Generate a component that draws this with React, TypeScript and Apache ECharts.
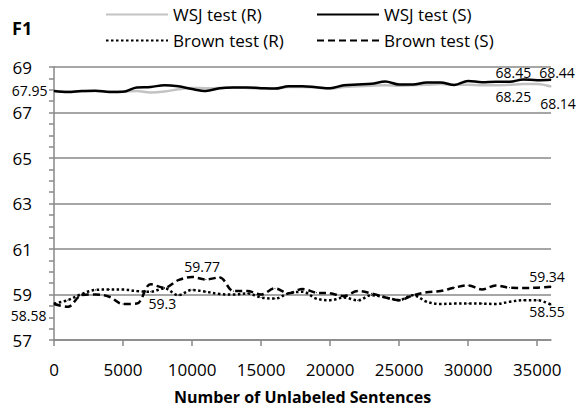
import React, { useEffect, useRef } from 'react';
import * as echarts from 'echarts';

const X_VALUES = [0, 1000, 2000, 3000, 4000, 5000, 6000, 7000, 8000, 9000, 10000, 11000, 12000, 13000, 14000, 15000, 16000, 17000, 18000, 19000, 20000, 21000, 22000, 23000, 24000, 25000, 26000, 27000, 28000, 29000, 30000, 31000, 32000, 33000, 34000, 35000, 36000];
const X_TICKS = [0, 5000, 10000, 15000, 20000, 25000, 30000, 35000];

const WSJ_R = [67.95, 67.92, 67.93, 67.95, 67.92, 67.92, 67.95, 67.88, 67.92, 68.02, 68.08, 68.07, 68.08, 68.1, 68.08, 68.05, 68.05, 68.12, 68.12, 68.1, 68.05, 68.12, 68.15, 68.18, 68.2, 68.18, 68.2, 68.22, 68.25, 68.22, 68.22, 68.2, 68.2, 68.22, 68.25, 68.25, 68.14];
const WSJ_S = [67.95, 67.9, 67.95, 67.96, 67.9, 67.91, 68.1, 68.12, 68.2, 68.15, 68.03, 67.95, 68.07, 68.1, 68.1, 68.07, 68.05, 68.15, 68.15, 68.11, 68.07, 68.2, 68.23, 68.26, 68.36, 68.23, 68.23, 68.32, 68.32, 68.21, 68.39, 68.33, 68.35, 68.35, 68.45, 68.42, 68.44];
const BROWN_R = [58.6, 58.75, 59.02, 59.2, 59.22, 59.22, 59.15, 59.12, 59.27, 58.97, 59.2, 59.12, 59.02, 59.0, 59.05, 58.87, 58.82, 59.05, 59.12, 58.82, 58.75, 58.87, 58.74, 58.97, 58.87, 58.75, 58.97, 58.68, 58.58, 58.6, 58.6, 58.6, 58.58, 58.68, 58.75, 58.75, 58.55];
const BROWN_S = [58.58, 58.46, 58.97, 59.0, 58.9, 58.58, 58.6, 59.45, 59.3, 59.63, 59.77, 59.66, 59.75, 59.15, 59.15, 59.0, 59.27, 59.05, 59.24, 59.08, 59.05, 58.93, 59.15, 59.05, 58.87, 58.75, 58.96, 59.1, 59.15, 59.3, 59.4, 59.22, 59.4, 59.3, 59.29, 59.3, 59.34];

const SERIES_NAMES = ['WSJ test (R)', 'WSJ test (S)', 'Brown test (R)', 'Brown test (S)'];

// Which points carry a value label (x position of the point per series)
const LABELLED_POINTS: Record<string, number[]> = {
  'WSJ test (R)': [34000, 36000],
  'WSJ test (S)': [0, 34000, 36000],
  'Brown test (R)': [36000],
  'Brown test (S)': [0, 8000, 10000, 36000],
};

const FONT = '"Open Sans", sans-serif';

// label placement (style) per series/x: position, distance and a pixel nudge
const LABEL_PLACEMENT: Record<string, any> = {
  'WSJ test (R)|34000': { position: 'bottom', distance: 3, dx: -10, dy: 1.5 },
  'WSJ test (R)|36000': { position: 'bottom', distance: 5, dx: 7, dy: 4 },
  'WSJ test (S)|0': { position: 'left', distance: 6, dx: 0, dy: 0 },
  'WSJ test (S)|34000': { position: 'top', distance: 2, dx: -10, dy: 3 },
  'WSJ test (S)|36000': { position: 'top', distance: 2, dx: 6, dy: 3 },
  'Brown test (R)|36000': { position: 'bottom', distance: -1, dx: -4, dy: 0 },
  'Brown test (S)|0': { position: 'left', distance: 7, dx: 0, dy: 11 },
  'Brown test (S)|8000': { position: 'bottom', distance: 4, dx: -2, dy: 4 },
  'Brown test (S)|10000': { position: 'top', distance: 3, dx: 10, dy: 1 },
  'Brown test (S)|36000': { position: 'top', distance: 2, dx: -4, dy: 0 },
};

function makeData(name: string, values: number[]) {
  const lab = LABELLED_POINTS[name] || [];
  return X_VALUES.map((x, i) => {
    if (lab.includes(x)) {
      const pl = LABEL_PLACEMENT[name + '|' + x] || {};
      return {
        value: [x, values[i]],
        label: {
          show: true,
          color: '#000',
          fontSize: 14,
          lineHeight: 15,
          fontFamily: FONT,
          formatter: (p: any) => String(p.value[1]),
          position: pl.position,
          distance: pl.distance,
        },
      };
    }
    return [x, values[i]];
  });
}

export default function App() {
  const ref = useRef<HTMLDivElement>(null);
  useEffect(() => {
    if (!ref.current) return;
    const chart = echarts.init(ref.current, undefined, { renderer: 'svg' });
    const grid = '#898989';
    const lineStyles = [
      { color: '#c3c3c3', width: 2.5, type: 'solid' },
      { color: '#000', width: 2.5, type: 'solid' },
      { color: '#000', width: 2.5, type: [2.5, 2.5] },
      { color: '#000', width: 2.5, type: [7, 4] },
    ];
    const valuesList = [WSJ_R, WSJ_S, BROWN_R, BROWN_S];
    const legendPos = [
      { left: 100, top: 1 },
      { left: 311, top: 1 },
      { left: 100, top: 27 },
      { left: 311, top: 27 },
    ];
    chart.setOption({
      animation: false,
      title: {
        text: 'F1',
        left: 7,
        top: 14,
        textStyle: { fontFamily: FONT, fontSize: 18, fontWeight: 'bold', color: '#000' },
      },
      legend: SERIES_NAMES.map((n, i) => ({
        data: [n],
        left: legendPos[i].left,
        top: legendPos[i].top,
        itemWidth: 62,
        itemHeight: 16,
        itemStyle: { opacity: 0 },
        textStyle: { fontFamily: FONT, fontSize: 17, color: '#000' },
        selectedMode: false,
      })),
      grid: { left: 54, right: 26, top: 67, bottom: 72, containLabel: false },
      xAxis: {
        type: 'value',
        min: 0,
        max: 36000,
        interval: 5000,
        name: 'Number of Unlabeled Sentences',
        nameLocation: 'middle',
        nameGap: 49,
        nameTextStyle: { fontFamily: FONT, fontSize: 16, fontWeight: 'bold', color: '#000' },
        axisLine: { lineStyle: { color: grid, width: 1.5 } },
        axisTick: { show: true, length: 6, lineStyle: { color: grid, width: 1.5 }, customValues: X_TICKS },
        axisLabel: {
          fontFamily: FONT, fontSize: 17, color: '#000', margin: 21, customValues: X_TICKS,
          formatter: (v: number) => String(v),
        },
        splitLine: { show: false },
      },
      yAxis: {
        type: 'value',
        min: 57,
        max: 69,
        interval: 2,
        axisLine: { show: true, lineStyle: { color: grid, width: 1.5 } },
        axisTick: { show: true, length: 5, lineStyle: { color: grid, width: 1.5 } },
        minorTick: { show: true, splitNumber: 4, length: 5, lineStyle: { color: grid, width: 1.5 } },
        axisLabel: { fontFamily: FONT, fontSize: 17, lineHeight: 17, color: '#000', margin: 22 },
        splitLine: { show: true, lineStyle: { color: grid, width: 1.5 } },
      },
      series: SERIES_NAMES.map((n, i) => ({
        name: n,
        type: 'line',
        smooth: 0.35,
        symbol: 'circle',
        symbolSize: 1,
        showSymbol: true,
        showAllSymbol: true,
        lineStyle: lineStyles[i],
        itemStyle: { color: lineStyles[i].color },
        label: { show: false },
        labelLayout: (params: any) => {
          const x = X_VALUES[params.dataIndex];
          const pl = LABEL_PLACEMENT[n + '|' + x];
          if (!pl) return {};
          return { dx: pl.dx, dy: pl.dy, hideOverlap: false };
        },
        data: makeData(n, valuesList[i]),
        z: i + 2,
      })),
    });
    return () => chart.dispose();
  }, []);
  return <div ref={ref} style={{ position: 'fixed', left: 0, top: 0, width: 577, height: 412, background: '#fff' }} />;
}
